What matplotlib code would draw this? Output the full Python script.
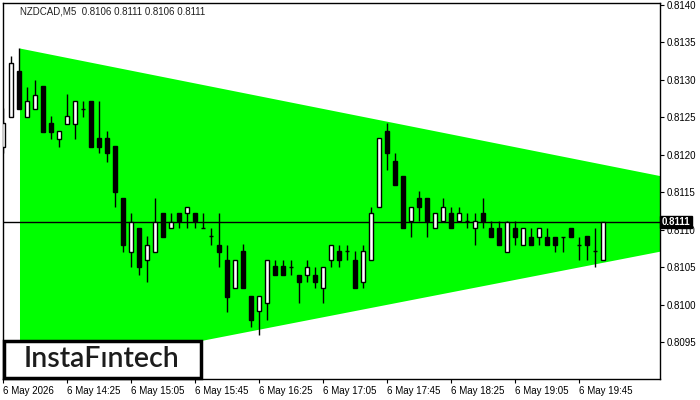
import matplotlib
matplotlib.use("Agg")
import matplotlib.pyplot as plt
from matplotlib.patches import Rectangle
import numpy as np

# ---- data ----
opens = [0.81210, 0.81250, 0.81311, 0.81250, 0.81261, 0.81291, 0.81242, 0.81221, 0.81241, 0.81241,
         0.81261, 0.81271, 0.81222, 0.81222, 0.81211, 0.81142, 0.81070, 0.81102, 0.81060, 0.81070,
         0.81122, 0.81102, 0.81122, 0.81122, 0.81122, 0.81102, 0.81091, 0.81080, 0.81060, 0.81022,
         0.81071, 0.81011, 0.80991, 0.81002, 0.81051, 0.81051, 0.81050, 0.81040, 0.81040, 0.81040,
         0.81022, 0.81060, 0.81071, 0.81071, 0.81060, 0.81030, 0.81060, 0.81130, 0.81231, 0.81191,
         0.81171, 0.81111, 0.81142, 0.81142, 0.81102, 0.81111, 0.81122, 0.81111, 0.81111, 0.81102,
         0.81122, 0.81102, 0.81102, 0.81070, 0.81102, 0.81080, 0.81090, 0.81090, 0.81090, 0.81090,
         0.81090, 0.81102, 0.81080, 0.81091, 0.81071, 0.81060]
highs = [0.81262, 0.81331, 0.81342, 0.81290, 0.81300, 0.81291, 0.81251, 0.81231, 0.81281, 0.81271,
         0.81271, 0.81271, 0.81271, 0.81231, 0.81211, 0.81142, 0.81122, 0.81102, 0.81091, 0.81142,
         0.81122, 0.81122, 0.81122, 0.81130, 0.81122, 0.81122, 0.81102, 0.81122, 0.81080, 0.81060,
         0.81081, 0.81011, 0.81011, 0.81060, 0.81060, 0.81060, 0.81060, 0.81040, 0.81060, 0.81050,
         0.81050, 0.81080, 0.81080, 0.81080, 0.81071, 0.81080, 0.81130, 0.81222, 0.81242, 0.81202,
         0.81171, 0.81130, 0.81151, 0.81142, 0.81122, 0.81142, 0.81130, 0.81130, 0.81122, 0.81122,
         0.81142, 0.81111, 0.81111, 0.81111, 0.81111, 0.81102, 0.81102, 0.81102, 0.81102, 0.81090,
         0.81090, 0.81102, 0.81090, 0.81091, 0.81102, 0.81110]
lows = [0.81202, 0.81250, 0.81261, 0.81250, 0.81261, 0.81230, 0.81221, 0.81210, 0.81241, 0.81221,
        0.81250, 0.81210, 0.81202, 0.81190, 0.81130, 0.81070, 0.81050, 0.81039, 0.81030, 0.81070,
        0.81090, 0.81102, 0.81102, 0.81102, 0.81102, 0.81102, 0.81080, 0.81050, 0.80990, 0.81022,
        0.81022, 0.80970, 0.80960, 0.80980, 0.81040, 0.81040, 0.81040, 0.81002, 0.81030, 0.81022,
        0.81002, 0.81050, 0.81050, 0.81060, 0.81022, 0.81022, 0.81060, 0.81130, 0.81179, 0.81160,
        0.81102, 0.81090, 0.81111, 0.81090, 0.81102, 0.81111, 0.81102, 0.81111, 0.81102, 0.81080,
        0.81102, 0.81090, 0.81079, 0.81070, 0.81079, 0.81080, 0.81079, 0.81079, 0.81079, 0.81070,
        0.81070, 0.81090, 0.81059, 0.81060, 0.81050, 0.81060]
closes = [0.81242, 0.81322, 0.81261, 0.81271, 0.81280, 0.81230, 0.81230, 0.81231, 0.81251, 0.81271,
          0.81261, 0.81210, 0.81210, 0.81202, 0.81150, 0.81079, 0.81110, 0.81050, 0.81080, 0.81110,
          0.81090, 0.81110, 0.81111, 0.81130, 0.81111, 0.81102, 0.81091, 0.81070, 0.81010, 0.81060,
          0.81022, 0.80980, 0.81011, 0.81060, 0.81040, 0.81040, 0.81050, 0.81030, 0.81050, 0.81030,
          0.81050, 0.81080, 0.81060, 0.81071, 0.81022, 0.81071, 0.81122, 0.81222, 0.81202, 0.81160,
          0.81102, 0.81130, 0.81130, 0.81111, 0.81122, 0.81130, 0.81102, 0.81122, 0.81111, 0.81111,
          0.81111, 0.81090, 0.81079, 0.81110, 0.81090, 0.81102, 0.81079, 0.81102, 0.81079, 0.81079,
          0.81090, 0.81090, 0.81080, 0.81080, 0.81071, 0.81110]

pattern_x = [2, 83]
pattern_upper = [0.81342, 0.81170]
pattern_lower = [0.80905, 0.81073]

bid_price = 0.8111
header = "NZDCAD,M5  0.8106 0.8111 0.8106 0.8111"
time_tick_pos = [0, 8, 16, 24, 32, 40, 48, 56, 64, 72]
time_tick_labels = ["6 May 2026", "6 May 14:25", "6 May 15:05", "6 May 15:45", "6 May 16:25",
                    "6 May 17:05", "6 May 17:45", "6 May 18:25", "6 May 19:05", "6 May 19:45"]
price_ticks = [0.8095, 0.8100, 0.8105, 0.8110, 0.8115, 0.8120, 0.8125, 0.8130, 0.8135, 0.8140]

# ---- figure ----
plt.rcParams['font.family'] = ['Liberation Sans', 'DejaVu Sans']
fig = plt.figure(figsize=(7, 4), dpi=100)
ax = fig.add_axes([2.5 / 700, 1 - 379 / 400, 657 / 700, 376.5 / 400])

ax.fill_between(pattern_x, pattern_lower, pattern_upper, color='#00ff00', lw=0, zorder=1)
ax.axhline(bid_price, color='black', lw=1, zorder=2)

x = np.arange(len(opens))
o = np.array(opens); c = np.array(closes); h = np.array(highs); l = np.array(lows)
ax.vlines(x, l, h, color='black', lw=1, zorder=3)
bull = c >= o
bottoms = np.minimum(o, c)
heights = np.abs(c - o)
ax.bar(x[bull], heights[bull], bottom=bottoms[bull], width=0.5, color='white',
       edgecolor='black', linewidth=1, zorder=4)
ax.bar(x[~bull], heights[~bull], bottom=bottoms[~bull], width=0.5, color='black',
       edgecolor='black', linewidth=1, zorder=4)

ax.set_xlim(-0.125, 82.06)
ax.set_ylim(0.809007, 0.814027)

ax.yaxis.tick_right()
ax.set_yticks(price_ticks)
ax.set_yticklabels([f"{p:.4f}" for p in price_ticks])
ax.tick_params(axis='y', length=3, width=0.8, pad=2, labelsize=7, colors='black')
ax.set_xticks(time_tick_pos)
ax.set_xticklabels(time_tick_labels, ha='left')
ax.tick_params(axis='x', length=3, width=0.8, pad=2, labelsize=7, colors='black')
for s in ax.spines.values():
    s.set_color('black'); s.set_linewidth(1)

ax.text(18 / 657, 1 - 9 / 376.5, header, transform=ax.transAxes, fontsize=7,
        color='#202020', ha='left', va='center')

# bid label
ax.text(1.003, bid_price, f"{bid_price:.4f}", transform=ax.get_yaxis_transform(),
        fontsize=7, color='white', fontweight='bold', ha='left', va='center', zorder=10,
        bbox=dict(boxstyle='square,pad=0.15', fc='black', ec='black'), clip_on=False)

# logo
fig.patches.append(Rectangle((3.5 / 700, 1 - 378 / 400), 197 / 700, 37 / 400,
                             transform=fig.transFigure, fc='white', ec='black', lw=2.5, zorder=20))
fig.text(102 / 700, 1 - 359 / 400, "InstaFıntech", fontsize=20.5, family=['Lato', 'DejaVu Sans'],
         fontweight='semibold', color='#1c1c1c', ha='center', va='center', zorder=21)

fig.savefig("out.png", dpi=100, facecolor='white')
